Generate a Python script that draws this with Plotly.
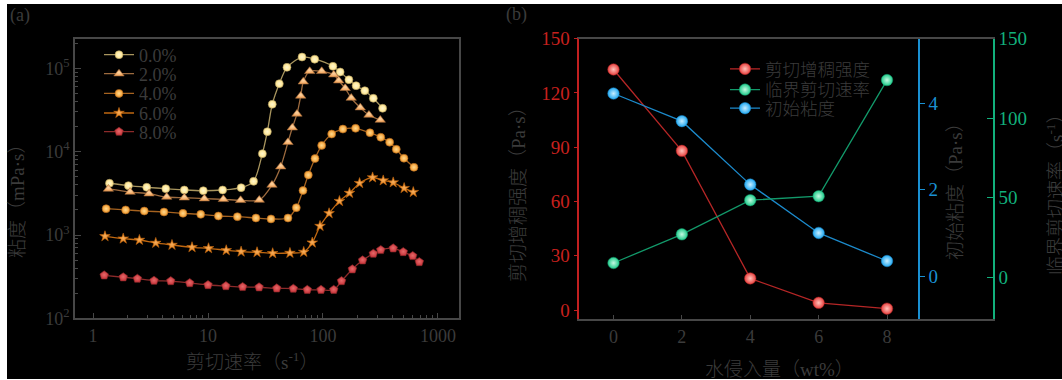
import plotly.graph_objects as go

W, H = 1062, 380
TXT = "#3b3b3b"
FRAME = "#474747"
FONT = "Liberation Serif, Noto Sans CJK SC"

# ---- panel (a): viscosity vs shear rate, by water content ----
rate_00 = [1.39, 2.03, 2.93, 4.29, 6.22, 9.10, 13.4, 19.4, 24.9, 29.7, 32.8, 36.2,
           41.7, 48.6, 65.7, 84.7, 122, 141, 168, 194, 231, 274, 330]
visc_00 = [4180, 3910, 3740, 3600, 3470, 3400, 3470, 3700, 4410, 9460, 17400, 37100,
           65500, 103000, 137000, 129000, 106000, 90600, 73200, 62000, 54000, 43800, 33200]

rate_20 = [1.36, 2.10, 3.07, 4.37, 6.22, 9.29, 13.6, 19.2, 27.9, 36.0, 42.9, 49.6, 54.1,
           59.4, 64.0, 67.4, 76.6, 97.4, 124, 137, 156, 176, 211, 251, 315]
visc_20 = [3570, 3280, 3130, 2860, 2800, 2730, 2680, 2610, 2630, 3980, 6610, 12970, 19400,
           28400, 46700, 69200, 92300, 92300, 84000, 71200, 57700, 44100, 33800, 27600, 24000]

rate_40 = [1.30, 1.92, 2.79, 4.14, 6.06, 8.64, 12.3, 18.0, 26.1, 35.3, 49.6, 58.6, 67.0,
           74.5, 85.2, 97.4, 119, 149, 192, 256, 318, 380, 434, 506, 618]
visc_40 = [2070, 2000, 1940, 1890, 1820, 1770, 1690, 1660, 1600, 1560, 1600, 2130, 3420,
           5250, 8280, 11900, 16300, 18700, 19100, 16900, 14900, 13000, 10700, 8350, 6500]

rate_60 = [1.27, 1.83, 2.53, 3.51, 4.86, 7.26, 10.1, 14.4, 19.4, 26.7, 36.5, 51.6, 68.0,
           80.7, 94.2, 113, 139, 170, 208, 270, 334, 408, 508, 610]
visc_60 = [964, 903, 871, 802, 759, 712, 692, 655, 630, 620, 603, 608, 625,
           809, 1280, 1820, 2550, 3190, 4190, 4900, 4510, 4270, 3650, 3270]

rate_80 = [1.25, 1.83, 2.43, 3.39, 4.74, 6.93, 10.0, 14.3, 20.0, 27.8, 39.6, 55.2, 73.0,
           96.1, 124, 145, 180, 221, 274, 318, 408, 499, 603, 688]
visc_80 = [328, 311, 299, 283, 280, 265, 251, 244, 238, 236, 229, 227, 220,
           220, 220, 280, 388, 497, 597, 661, 692, 625, 560, 474]

content_labels = ["0.0%", "2.0%", "4.0%", "6.0%", "8.0%"]
rate_ticks = [1, 10, 100, 1000]
rate_ticktext = ["1", "10", "100", "1000"]
visc_ticks = [100, 1000, 10000, 100000]
visc_ticktext = ["10<sup>2</sup>", "10<sup>3</sup>", "10<sup>4</sup>", "10<sup>5</sup>"]

# ---- panel (b): characteristic parameters vs water intrusion ----
water = [0, 2, 4, 6, 8]
thick_strength = [133, 88, 17.5, 4, 0.8]      # Pa·s
critical_rate = [9, 27, 48.5, 51, 124]        # s^-1
init_visc = [4.23, 3.59, 2.12, 1.0, 0.35]     # Pa·s
param_labels = ["剪切增稠强度", "临界剪切速率", "初始粘度"]


def fx(p):
    return p / W


def fy(p):
    return 1 - p / H


fig = go.Figure()

# (symbol, size, fill, highlight, line colour)
a_styles = [
    ("circle", 8, "#FFE38A", "#FFF7CF", "#A8955E"),
    ("triangle-up", 9, "#F4A257", "#FBD3A2", "#9C6A3E"),
    ("circle", 8, "#F39A2C", "#FFD98F", "#A5621F"),
    ("star", 8, "#E57B10", "#F5AE5E", "#BF6710"),
    ("pentagon", 9, "#C8333A", "#E56A6A", "#8C2A2A"),
]
a_series = [(rate_00, visc_00), (rate_20, visc_20), (rate_40, visc_40),
            (rate_60, visc_60), (rate_80, visc_80)]
a_legend_rows = [55, 74, 93.7, 113.3, 132]

legends = {}
for i, ((xs, ys), (sym, sz, fill, hi, lc), lab) in enumerate(zip(a_series, a_styles, content_labels)):
    key = "legend" if i == 0 else f"legend{i + 1}"
    fig.add_trace(go.Scatter(
        x=xs, y=ys, name=lab, mode="lines+markers",
        line=dict(color=lc, width=1.3, shape="spline", smoothing=0.8),
        marker=dict(symbol=sym, size=sz, color=fill,
                    gradient=dict(type="radial", color=hi),
                    line=dict(color=lc, width=0.6)),
        xaxis="x", yaxis="y", legend=key,
    ))
    legends[key] = dict(x=fx(99), y=fy(a_legend_rows[i]), xanchor="left", yanchor="middle",
                        font=dict(family=FONT, size=18, color=TXT))

b_styles = [
    (thick_strength, "y2", "#E8413F", "#FFC2BA", "#B52626"),
    (critical_rate, "y4", "#1FCB8A", "#C4FAE2", "#12996A"),
    (init_visc, "y3", "#22A9F2", "#C8EEFF", "#1C8ACB"),
]
b_legend_rows = [69, 89.7, 108.3]
for j, ((vals, yax, fill, hi, lc), lab) in enumerate(zip(b_styles, param_labels)):
    key = f"legend{6 + j}"
    fig.add_trace(go.Scatter(
        x=water, y=vals, name=lab, mode="lines+markers",
        line=dict(color=lc, width=1.3),
        marker=dict(symbol="circle", size=11.5, color=fill,
                    gradient=dict(type="radial", color=hi),
                    line=dict(color=lc, width=0.5)),
        xaxis="x2", yaxis=yax, legend=key,
    ))
    legends[key] = dict(x=fx(725), y=fy(b_legend_rows[j]), xanchor="left", yanchor="middle",
                        font=dict(family=FONT, size=17.5, color=TXT, weight=300))

for key, spec in legends.items():
    spec.update(bgcolor="rgba(0,0,0,0)", borderwidth=0, itemwidth=30)

tick_font = dict(family=FONT, size=18, color=TXT)
minor_rate = [m * 10 ** e for e in range(0, 4) for m in range(2, 10)]
minor_visc = [m * 10 ** e for e in range(2, 6) for m in range(2, 10)]

layout = dict(
    template="none",
    width=W, height=H, autosize=False,
    margin=dict(l=0, r=0, t=0, b=0, pad=0, autoexpand=False),
    paper_bgcolor="#000000", plot_bgcolor="#000000",
    font=dict(family=FONT, color=TXT),
    showlegend=True,
    xaxis=dict(
        type="log", range=[-0.157, 3.183], domain=[fx(75), fx(459)], anchor="y",
        automargin=False,
        showline=True, linecolor=FRAME, linewidth=1.5, mirror=True,
        ticks="inside", ticklen=6, tickwidth=1.2, tickcolor=FRAME,
        tickmode="array", tickvals=rate_ticks, ticktext=rate_ticktext,
        minor=dict(tickmode="array", tickvals=minor_rate, ticks="inside",
                   ticklen=3.5, tickcolor=FRAME, showgrid=False),
        showgrid=False, zeroline=False, tickfont=tick_font,
    ),
    yaxis=dict(
        type="log", range=[2, 5.353], domain=[fy(318.3), fy(39)], anchor="x",
        automargin=False,
        showline=True, linecolor=FRAME, linewidth=1.5, mirror=True,
        ticks="inside", ticklen=6, tickwidth=1.2, tickcolor=FRAME,
        tickmode="array", tickvals=visc_ticks, ticktext=visc_ticktext,
        minor=dict(tickmode="array", tickvals=minor_visc, ticks="inside",
                   ticklen=3.5, tickcolor=FRAME, showgrid=False),
        showgrid=False, zeroline=False, tickfont=tick_font,
    ),
    xaxis2=dict(
        range=[-1, 11.1], domain=[fx(579.3), fx(993)], anchor="y2",
        automargin=False,
        showline=True, linecolor=FRAME, linewidth=1.5, mirror=True,
        ticks="inside", ticklen=5, tickwidth=1.2, tickcolor=FRAME,
        tickmode="array", tickvals=water,
        showgrid=False, zeroline=False, tickfont=tick_font,
    ),
    yaxis2=dict(
        range=[-5.1, 150], domain=[fy(319.3), fy(38.7)], anchor="x2",
        automargin=False,
        showline=True, linecolor="#C22020", linewidth=1.5,
        ticks="outside", ticklen=4, tickwidth=1.2, tickcolor="#C22020",
        tickmode="array", tickvals=[0, 30, 60, 90, 120, 150],
        showgrid=False, zeroline=False,
        tickfont=dict(family=FONT, size=19, color="#C8201E"),
    ),
    yaxis3=dict(
        range=[-1, 5.5], overlaying="y2", anchor="free", position=fx(919), side="right",
        automargin=False,
        showline=True, linecolor="#1A90D2", linewidth=1.5,
        ticks="outside", ticklen=5, tickwidth=1.2, tickcolor="#1A90D2",
        tickmode="array", tickvals=[0, 2, 4],
        showgrid=False, zeroline=False,
        tickfont=dict(family=FONT, size=19, color="#1A90D2"),
    ),
    yaxis4=dict(
        range=[-26.4, 150], overlaying="y2", anchor="x2", side="right",
        automargin=False,
        showline=True, linecolor="#12B07C", linewidth=1.5,
        ticks="inside", ticklen=6, tickwidth=1.2, tickcolor="#12B07C",
        tickmode="array", tickvals=[0, 50, 100, 150],
        showgrid=False, zeroline=False,
        tickfont=dict(family=FONT, size=19, color="#12B07C"),
    ),
)
layout.update(legends)
fig.update_layout(**layout)

# white margin strips around the dark canvas
for x0, x1, y0, y1 in [(0, W, 0, 4), (0, 7, 0, H), (0, W, 379, H)]:
    fig.add_shape(type="rect", xref="paper", yref="paper",
                  x0=fx(x0), x1=fx(x1), y0=fy(y1), y1=fy(y0),
                  fillcolor="#FFFFFF", line=dict(width=0), layer="below")


def label(text, x, y, angle=0, size=19, xanchor="center", weight=300):
    fig.add_annotation(text=text, xref="paper", yref="paper", x=fx(x), y=fy(y),
                       xanchor=xanchor, yanchor="middle", textangle=angle,
                       showarrow=False,
                       font=dict(family=FONT, size=size, color=TXT, weight=weight))


label("(a)", 8, 15, size=18, xanchor="left", weight=400)
label("(b)", 504, 14, size=18, xanchor="left", weight=400)
label("粘度（mPa·s）", 17, 196, angle=-90)
label("剪切速率（s<sup>-1</sup>）", 252, 361)
label("水侵入量（wt%）", 779, 369)
label("剪切增稠强度（Pa·s）", 518, 190, angle=-90)
label("初始粘度（Pa·s）", 955, 187, angle=-90)
label("临界剪切速率（s<sup>-1</sup>）", 1055, 190, angle=-90)

fig.write_html(
    "out.html",
    config={"responsive": False, "displayModeBar": False},
    post_script="document.body.style.margin='0';document.body.style.overflow='hidden';",
)
